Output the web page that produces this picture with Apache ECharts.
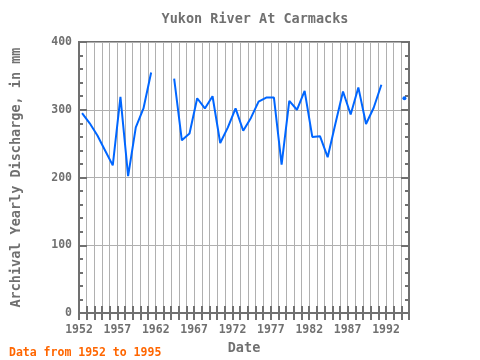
<!DOCTYPE html>
<html>
<head>
<meta charset="utf-8">
<script src="https://cdn.jsdelivr.net/npm/echarts@6/dist/echarts.min.js"></script>
<style>html,body{margin:0;padding:0;background:#fff}#c{width:480px;height:360px}</style>
</head>
<body>
<div id="c"></div>
<script>
// Data
var years = [1952,1953,1954,1955,1956,1957,1958,1959,1960,1961,1962,1963,1964,1965,1966,1967,1968,1969,1970,1971,1972,1973,1974,1975,1976,1977,1978,1979,1980,1981,1982,1983,1984,1985,1986,1987,1988,1989,1990,1991,1992,1993,1994];
var discharge = [295,280,262,240,218,319,202,274,302,355,null,null,346,255,265,317,302,320,251,274,302,269,288,312,318,318,219,313,300,328,260,261,230,279,327,293,333,279,303,337,null,null,317];
var xLabelYears = [1952,1957,1962,1967,1972,1977,1982,1987,1992];
var yTicks = [0,100,200,300,400];
var titleText = 'Yukon River At Carmacks';
var yName = 'Archival Yearly Discharge, in mm';
var xName = 'Date';
var footText = 'Data from 1952 to 1995';
var dateOffset = 0.4; // measurements dated within the year

var font = 'DejaVu Sans Mono';
var gray = '#707070';

var seriesData = years.map(function (y, i) {
  return [y + dateOffset, discharge[i]];
});
function isolated(i) {
  if (discharge[i] == null) return false;
  var prev = i > 0 ? discharge[i - 1] : null;
  var next = i < discharge.length - 1 ? discharge[i + 1] : null;
  return prev == null && next == null;
}

var chart = echarts.init(document.getElementById('c'), null, {renderer: 'canvas'});
var axisCommon = {
  type: 'value', min: 1952, max: 1995, interval: 1
};
chart.setOption({
  animation: false,
  backgroundColor: '#ffffff',
  title: [{
    text: titleText, left: 250, top: 7, textAlign: 'center',
    textStyle: {fontFamily: font, fontSize: 13.5, fontWeight: 'bold', color: gray}
  }, {
    text: footText, left: 4, top: 342,
    textStyle: {fontFamily: font, fontSize: 11.5, fontWeight: 'bold', color: '#ff6600'}
  }],
  grid: {left: 79, top: 42, width: 330, height: 280, show: true, borderColor: gray, borderWidth: 2, backgroundColor: 'transparent'},
  xAxis: [Object.assign({}, axisCommon, {
    position: 'bottom',
    name: xName, nameLocation: 'middle', nameGap: 26,
    nameTextStyle: {fontFamily: font, fontSize: 13.5, fontWeight: 'bold', color: gray},
    axisLine: {show: true, lineStyle: {color: gray, width: 2}},
    axisTick: {show: true, inside: true, length: 7, lineStyle: {color: gray, width: 2}},
    axisLabel: {
      fontFamily: font, fontSize: 11.5, fontWeight: 'bold', color: gray, margin: 11,
      formatter: function (v) { return xLabelYears.indexOf(v) >= 0 ? String(v) : ''; },
      showMaxLabel: true, showMinLabel: true
    },
    splitLine: {show: true, lineStyle: {color: '#b0b0b0', width: 1}}
  }), Object.assign({}, axisCommon, {
    position: 'top',
    axisLine: {show: true, lineStyle: {color: gray, width: 2}},
    axisTick: {show: true, inside: true, length: 7, lineStyle: {color: gray, width: 2}},
    axisLabel: {show: false},
    splitLine: {show: false}
  })],
  yAxis: [{
    type: 'value', min: 0, max: 400, interval: 100, position: 'left',
    name: yName, nameLocation: 'middle', nameGap: 56,
    nameTextStyle: {fontFamily: font, fontSize: 13.5, fontWeight: 'bold', color: gray},
    axisLine: {show: true, lineStyle: {color: gray, width: 2}},
    axisTick: {show: true, inside: true, length: 8, lineStyle: {color: gray, width: 2}},
    minorTick: {show: true, splitNumber: 5, length: 4, lineStyle: {color: gray, width: 2}},
    axisLabel: {
      fontFamily: font, fontSize: 11.5, fontWeight: 'bold', color: gray, margin: 7,
      formatter: function (v) { return yTicks.indexOf(v) >= 0 ? String(v) : ''; }
    },
    splitLine: {show: true, lineStyle: {color: '#b0b0b0', width: 1}}
  }, {
    type: 'value', min: 0, max: 400, interval: 100, position: 'right',
    axisLine: {show: true, lineStyle: {color: gray, width: 2}},
    axisTick: {show: true, inside: true, length: 8, lineStyle: {color: gray, width: 2}},
    minorTick: {show: true, splitNumber: 5, length: 4, lineStyle: {color: gray, width: 2}},
    axisLabel: {show: false},
    splitLine: {show: false}
  }],
  series: [{
    type: 'line',
    xAxisIndex: 0, yAxisIndex: 0,
    data: seriesData,
    connectNulls: false,
    showSymbol: true,
    symbol: 'circle',
    symbolSize: function (val, params) { return isolated(params.dataIndex) ? 4 : 0; },
    itemStyle: {color: '#0066ff'},
    lineStyle: {color: '#0066ff', width: 2},
    z: 5
  }]
});
</script>
</body>
</html>
